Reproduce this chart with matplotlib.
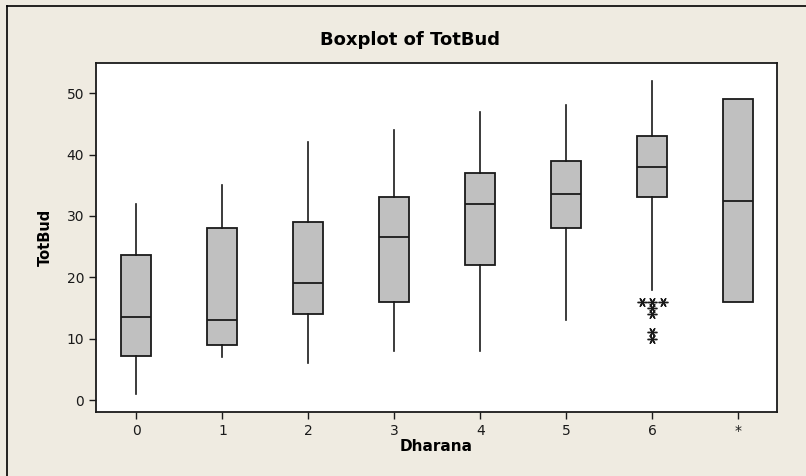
import matplotlib
matplotlib.use("Agg")
import matplotlib.pyplot as plt
from matplotlib.lines import Line2D
from collections import Counter

# Dharana groups, five-number summaries
groups = ["0", "1", "2", "3", "4", "5", "6", "*"]
whislo = [1, 7, 6, 8, 8, 13, 18, 16]
q1 = [7.2, 9, 14, 16, 22, 28, 33, 16]
med = [13.5, 13, 19, 26.5, 32, 33.5, 38, 32.5]
q3 = [23.7, 28, 29, 33, 37, 39, 43, 49]
whishi = [32, 35, 42, 44, 47, 48, 52, 49]
outliers = {"6": [16, 16, 16, 15, 14, 11, 10]}

bg = "#efebe1"
fig = plt.figure(figsize=(8.06, 4.76), dpi=100, facecolor=bg)
ax = fig.add_axes([0.1191, 0.1345, 0.845, 0.733])

stats = []
for i, g in enumerate(groups):
    stats.append(dict(label=g, whislo=whislo[i], q1=q1[i], med=med[i],
                      q3=q3[i], whishi=whishi[i], fliers=[]))

ax.bxp(stats, positions=range(len(groups)), widths=0.35, patch_artist=True,
       showcaps=False, showfliers=False,
       boxprops=dict(facecolor="#c0c0c0", edgecolor="#1a1a1a", linewidth=1.3),
       medianprops=dict(color="#1a1a1a", linewidth=1.3),
       whiskerprops=dict(color="#1a1a1a", linewidth=1.2))

# outliers drawn as asterisks, tied values spread sideways like Minitab does
for g, vals in outliers.items():
    pos = groups.index(g)
    counts = Counter(vals)
    for v, n in counts.items():
        offs = [(k - (n - 1) / 2) * 0.12 for k in range(n)]
        ax.plot([pos + o for o in offs], [v] * n, linestyle="none",
                marker=(6, 2, 90), markersize=7, markeredgewidth=1.0,
                color="#1a1a1a")

ax.set_xlim(-0.47, 7.45)
ax.set_ylim(-1.95, 54.9)
ax.set_yticks([0, 10, 20, 30, 40, 50])
ax.set_xticks(range(len(groups)))
ax.set_xticklabels(groups)
ax.tick_params(direction="out", length=5, width=1.0, labelsize=10, colors="#1a1a1a")
for s in ax.spines.values():
    s.set_linewidth(1.3)
    s.set_color("#1a1a1a")

ax.set_xlabel("Dharana", fontsize=11, fontweight="bold", labelpad=1)
ax.set_ylabel("TotBud", fontsize=10.5, fontweight="bold", labelpad=10)
fig.text(0.509, 0.915, "Boxplot of TotBud", ha="center", va="center",
         fontsize=13, fontweight="bold")

# outer frame: only top and left edges are visible in the picture
fig.add_artist(Line2D([0.009, 1.0], [0.988, 0.988], color="black", linewidth=1.2))
fig.add_artist(Line2D([0.009, 0.009], [0.0, 0.988], color="black", linewidth=1.2))

fig.savefig("out.png", dpi=100, facecolor=bg)
